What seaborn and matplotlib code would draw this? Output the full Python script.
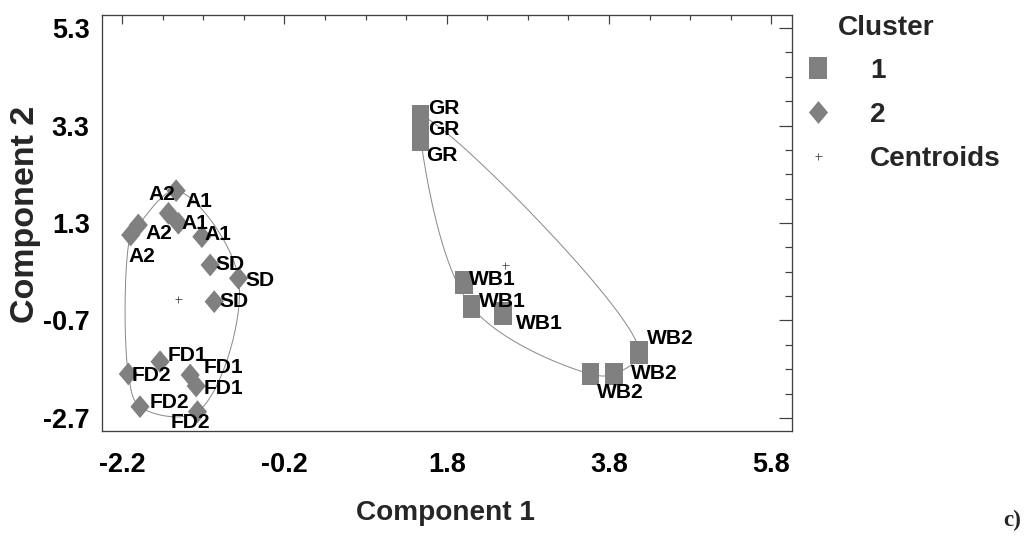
import numpy as np
import pandas as pd
import matplotlib
matplotlib.use("Agg")
import matplotlib.pyplot as plt
from matplotlib.lines import Line2D
from matplotlib.ticker import FixedLocator, FormatStrFormatter
import seaborn as sns

# ---------------- data ----------------
sample = ["GR", "GR", "GR", "WB1", "WB1", "WB1", "WB2", "WB2", "WB2",
          "A1", "A2", "A1", "A1", "A2", "A2",
          "SD", "SD", "SD", "FD1", "FD1", "FD1", "FD2", "FD2", "FD2"]
component1 = [1.479, 1.479, 1.479, 2.014, 2.105, 2.491, 4.170, 3.569, 3.858,
              -1.533, -1.628, -1.505, -1.216, -1.999, -2.093,
              -1.114, -0.764, -1.064, -1.731, -1.360, -1.286, -2.122, -1.978, -1.270]
component2 = [3.485, 3.249, 3.013, 0.084, -0.417, -0.561, -1.352, -1.797, -1.797,
              1.963, 1.499, 1.294, 1.019, 1.259, 1.054,
              0.438, 0.166, -0.314, -1.545, -1.818, -2.044, -1.797, -2.468, -2.571]
cluster = [1] * 9 + [2] * 15
# label placement offsets (points, style only)
label_dx = [7, 7, 5, 5, 8, 13, 8, 7, 17,
            9, -20, 3, 3, 7, -2,
            5, 7, 5, 8, 13, 7, 3, 10, -27]
label_dy = [8, -2, -16, 3, 5, -10, 14, -19, 0,
            -11, 19, 0, 2, -9, -22,
            1, -2, 0, 6, 7, -2, -2, 4, -11]

x_ticks = [-2.2, -0.2, 1.8, 3.8, 5.8]
y_ticks = [-2.7, -0.7, 1.3, 3.3, 5.3]
legend_labels = ["1", "2", "Centroids"]

df = pd.DataFrame({"Component 1": component1, "Component 2": component2,
                   "Cluster": cluster, "Sample": sample})

# ---------------- style ----------------
sns.set_style("white")
plt.rcParams["font.family"] = ["Liberation Sans", "DejaVu Sans"]
plt.rcParams["axes.unicode_minus"] = False

DPI = 72
fig = plt.figure(figsize=(1032 / DPI, 544 / DPI), dpi=DPI)
ax = fig.add_axes([101.7 / 1032, 1 - 431 / 544, 690 / 1032, 416 / 544])
ax.set_xlim(-2.45, 6.05)
ax.set_ylim(-2.967, 5.567)

MARK_COLOR = "#808080"
square = [(-0.385, -0.5), (0.385, -0.5), (0.385, 0.5), (-0.385, 0.5), (-0.385, -0.5)]
diamond = [(0, 0.5), (0.42, 0), (0, -0.5), (-0.42, 0), (0, 0.5)]

sns.scatterplot(data=df, x="Component 1", y="Component 2", style="Cluster",
                markers={1: square, 2: diamond}, color=MARK_COLOR, s=520,
                linewidth=0, edgecolor="none", legend=False, ax=ax, zorder=3)

# smoothed hull around each cluster
def convex_hull(points):
    pts = sorted(set(map(tuple, points)))
    if len(pts) < 3:
        return np.array(pts)
    def cross(o, a, b):
        return (a[0] - o[0]) * (b[1] - o[1]) - (a[1] - o[1]) * (b[0] - o[0])
    lower, upper = [], []
    for p in pts:
        while len(lower) >= 2 and cross(lower[-2], lower[-1], p) <= 0:
            lower.pop()
        lower.append(p)
    for p in reversed(pts):
        while len(upper) >= 2 and cross(upper[-2], upper[-1], p) <= 0:
            upper.pop()
        upper.append(p)
    return np.array(lower[:-1] + upper[:-1])

def closed_centripetal_cr(P, n=60, alpha=0.5):
    out = []
    N = len(P)
    for i in range(N):
        p0, p1, p2, p3 = P[i - 1], P[i], P[(i + 1) % N], P[(i + 2) % N]
        t0 = 0.0
        t1 = t0 + np.linalg.norm(p1 - p0) ** alpha
        t2 = t1 + np.linalg.norm(p2 - p1) ** alpha
        t3 = t2 + np.linalg.norm(p3 - p2) ** alpha
        t = np.linspace(t1, t2, n, endpoint=False)[:, None]
        A1 = (t1 - t) / (t1 - t0) * p0 + (t - t0) / (t1 - t0) * p1
        A2 = (t2 - t) / (t2 - t1) * p1 + (t - t1) / (t2 - t1) * p2
        A3 = (t3 - t) / (t3 - t2) * p2 + (t - t2) / (t3 - t2) * p3
        B1 = (t2 - t) / (t2 - t0) * A1 + (t - t0) / (t2 - t0) * A2
        B2 = (t3 - t) / (t3 - t1) * A2 + (t - t1) / (t3 - t1) * A3
        C = (t2 - t) / (t2 - t1) * B1 + (t - t1) / (t2 - t1) * B2
        out.append(C)
    out = np.vstack(out)
    return np.vstack([out, out[:1]])

for c in sorted(df["Cluster"].unique()):
    sub = df[df["Cluster"] == c]
    disp = ax.transData.transform(sub[["Component 1", "Component 2"]].to_numpy())
    hull = convex_hull(disp)
    curve = closed_centripetal_cr(hull)
    curve_data = ax.transData.inverted().transform(curve)
    ax.plot(curve_data[:, 0], curve_data[:, 1], color="#8a8a8a", lw=1.0, zorder=2)

# centroids
cent = df.groupby("Cluster")[["Component 1", "Component 2"]].mean()
ax.plot(cent["Component 1"], cent["Component 2"], "+", color="#404040",
        ms=7, mew=0.8, ls="none", zorder=4)

# point labels
for xi, yi, lab, dx, dy in zip(component1, component2, sample, label_dx, label_dy):
    ax.annotate(lab, (xi, yi), xytext=(dx, dy), textcoords="offset points",
                ha="left", va="center", fontsize=21, fontweight="bold",
                color="black", zorder=5)

# axes styling
SPINE = "#404040"
for sp in ax.spines.values():
    sp.set_color(SPINE)
    sp.set_linewidth(1.3)
    sp.set_visible(True)
ax.xaxis.set_major_locator(FixedLocator(x_ticks))
ax.yaxis.set_major_locator(FixedLocator(y_ticks))
ax.xaxis.set_minor_locator(FixedLocator(np.arange(-2.2, 6.0, 0.5)))
ax.yaxis.set_minor_locator(FixedLocator(np.arange(-2.7, 5.4, 0.5)))
ax.xaxis.set_major_formatter(FormatStrFormatter("%.1f"))
ax.yaxis.set_major_formatter(FormatStrFormatter("%.1f"))
ax.tick_params(axis="both", which="both", direction="in", top=True, right=True,
               color=SPINE, width=1.2, labelcolor="black")
ax.tick_params(axis="x", which="major", length=8.5, pad=21)
ax.tick_params(axis="x", which="minor", length=4.5)
ax.tick_params(axis="y", which="major", length=13, pad=12)
ax.tick_params(axis="y", which="minor", length=7)
for lbl in ax.get_xticklabels() + ax.get_yticklabels():
    lbl.set_fontsize(27)
    lbl.set_fontweight("bold")

ax.set_xlabel("Component 1", fontsize=28, fontweight="bold")
ax.set_ylabel("Component 2", fontsize=34, fontweight="bold")
ax.xaxis.set_label_coords(0.498, -0.166)
ax.yaxis.set_label_coords(-0.088, 0.52)
ax.grid(False)

# legend
handles = [
    Line2D([], [], marker=square, color=MARK_COLOR, ls="none", markersize=22.8, markeredgewidth=0),
    Line2D([], [], marker=diamond, color=MARK_COLOR, ls="none", markersize=22.8, markeredgewidth=0),
    Line2D([], [], marker="+", color="#404040", ls="none", markersize=7, markeredgewidth=0.8),
]
leg = fig.legend(handles, legend_labels, loc="upper left",
                 bbox_to_anchor=(804 / 1032, 1 - 58 / 544), bbox_transform=fig.transFigure,
                 frameon=False, borderpad=0, borderaxespad=0, handlelength=1.0,
                 handletextpad=1.36, labelspacing=0.64,
                 prop={"size": 28, "weight": "bold"})
fig.text(838 / 1032, 1 - 28 / 544, "Cluster", fontsize=28, fontweight="bold",
         ha="left", va="center")

fig.text(1003 / 1032, 1 - 520 / 544, "c)", fontsize=23, fontweight="bold",
         family=["Liberation Serif", "DejaVu Serif"], ha="left", va="center")

fig.savefig("out.png", dpi=DPI)
